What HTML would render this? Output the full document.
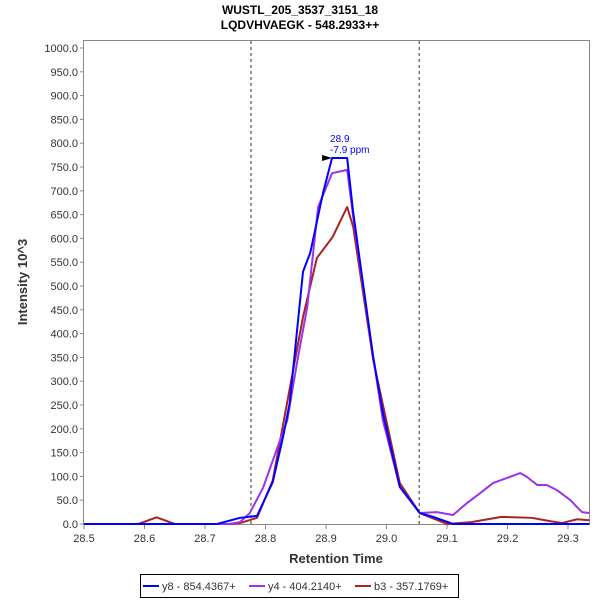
<!DOCTYPE html>
<html><head><meta charset="utf-8"><style>
body{margin:0;background:#fff;font-family:"Liberation Sans",sans-serif}
svg{display:block}
text{font-family:"Liberation Sans",sans-serif}
</style></head><body>
<svg id="c" width="600" height="600" viewBox="0 0 600 600">
<rect width="600" height="600" fill="#fff"/>
<text x="300" y="14" text-anchor="middle" font-size="12" font-weight="bold">WUSTL_205_3537_3151_18</text>
<text x="300" y="29" text-anchor="middle" font-size="12" font-weight="bold">LQDVHVAEGK - 548.2933++</text>
<rect x="83.5" y="40.5" width="506" height="484" fill="#fff" stroke="#888"/>
<g id="yticks"></g><g id="xticks"></g>
<g id="series"></g>
<text transform="translate(27,282) rotate(-90)" text-anchor="middle" font-size="13" font-weight="bold" fill="#333">Intensity 10^3</text>
<text x="336" y="563" text-anchor="middle" font-size="13" font-weight="bold" fill="#333">Retention Time</text>
<g>
<rect x="140.5" y="574.5" width="318" height="23" fill="#fff" stroke="#000"/>
<line x1="143" y1="586" x2="159" y2="586" stroke="#0000ff" stroke-width="2"/>
<text x="162" y="590" font-size="11" fill="#333">y8 - 854.4367+</text>
<line x1="249" y1="586" x2="265" y2="586" stroke="#9933ee" stroke-width="2"/>
<text x="268" y="590" font-size="11" fill="#333">y4 - 404.2140+</text>
<line x1="355" y1="586" x2="371" y2="586" stroke="#aa2222" stroke-width="2"/>
<text x="374" y="590" font-size="11" fill="#333">b3 - 357.1769+</text>
</g>
</svg>
<script>
const yTickValues=[0,50,100,150,200,250,300,350,400,450,500,550,600,650,700,750,800,850,900,950,1000];
const xTickValues=[28.5,28.6,28.7,28.8,28.9,29.0,29.1,29.2,29.3];
const boundaryRTs=[28.776,29.054];
const y8RT=[28.5,28.72,28.758,28.786,28.812,28.829,28.840,28.862,28.874,28.895,28.910,28.935,28.945,28.978,28.994,29.022,29.055,29.077,29.110,29.335];
const y8Val=[0,0,13,17,88,183,254,530,570,695,769,769,654,351,233,78,23,15,0,0];
const y4RT=[28.5,28.74,28.758,28.774,28.796,28.824,28.836,28.852,28.869,28.887,28.910,28.935,28.945,28.978,28.994,29.022,29.055,29.083,29.110,29.133,29.155,29.176,29.204,29.221,29.232,29.249,29.265,29.282,29.304,29.323,29.335];
const y4Val=[0,0,4,23,76,176,218,338,456,666,737,744,645,351,218,78,23,25,19,44,65,86,99,107,99,82,82,71,50,25,23];
const b3RT=[28.5,28.59,28.62,28.65,28.74,28.758,28.786,28.812,28.862,28.885,28.911,28.935,28.945,28.978,29.022,29.055,29.10,29.14,29.19,29.24,29.27,29.29,29.315,29.335];
const b3Val=[0,0,14,0,0,2,13,92,435,559,603,666,624,345,86,23,0,4,15,13,6,2,10,8];
const apexRT=[28.91], apexVal=[769];
const X0=84,XS=605,Y0=524,YS=0.476;
const sx=r=>X0+(r-28.5)*XS, sy=v=>Y0-v*YS;
const NS="http://www.w3.org/2000/svg";
function mk(t,a,p){const e=document.createElementNS(NS,t);for(const k in a)e.setAttribute(k,a[k]);p.appendChild(e);return e;}
const yt=document.getElementById('yticks');
yTickValues.forEach(v=>{
 const l=mk('line',{x1:80,x2:84,y1:sy(v),y2:sy(v),stroke:'#888'},yt);
 
 
 const t=mk('text',{x:78,y:sy(v)+4,'text-anchor':'end','font-size':11,fill:'#333'},yt);
 t.textContent=v.toFixed(1);
 
 
});
const xt=document.getElementById('xticks');
xTickValues.forEach(v=>{
 const l=mk('line',{x1:sx(v),x2:sx(v),y1:525,y2:529,stroke:'#888'},xt);
 
 
 const t=mk('text',{x:sx(v),y:542,'text-anchor':'middle','font-size':11,fill:'#333'},xt);
 t.textContent=v.toFixed(1);
 
 
});
const sg=document.getElementById('series');
boundaryRTs.forEach(r=>{
 const l=mk('line',{x1:sx(r),x2:sx(r),y1:41,y2:524,stroke:'#333','stroke-dasharray':'3,3'},sg);
 
 
});
function line(rt,val,col,name){
 const p=mk('polyline',{points:rt.map((r,i)=>sx(r)+','+sy(val[i])).join(' '),fill:'none',stroke:col,'stroke-width':2,'stroke-linejoin':'round'},sg);
 
 
}
line(b3RT,b3Val,'#aa2222','series-b3');
line(y4RT,y4Val,'#9933ee','series-y4');
line(y8RT,y8Val,'#0000ff','series-y8');
const ax=sx(apexRT[0]), ay=sy(apexVal[0]);
const m=mk('polygon',{points:`${ax-10},${ay-3} ${ax},${ay} ${ax-10},${ay+3}`,fill:'#000'},sg);


const a1=mk('text',{x:ax-2,y:ay-16,'font-size':10,fill:'#0000ff'},sg);a1.textContent='28.9';


const a2=mk('text',{x:ax-2,y:ay-5,'font-size':10,fill:'#0000ff'},sg);a2.textContent='-7.9 ppm';


</script>
</body></html>
